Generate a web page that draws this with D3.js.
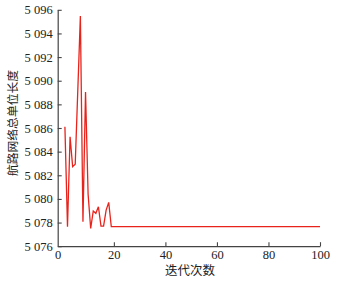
<!DOCTYPE html>
<html><head><meta charset="utf-8">
<script src="https://cdn.jsdelivr.net/npm/d3@7"></script>
<style>body{margin:0;background:#fff}svg{display:block}</style>
</head><body>
<script>
const iterations = d3.range(1, 101);
const earlyValues = [5086.1, 5077.65, 5085.26, 5082.73, 5082.93, 5089.2, 5095.48, 5078.07, 5089.05, 5080.4,
  5077.5, 5078.98, 5078.78, 5079.34, 5077.7, 5077.7, 5079.06, 5079.71];
const finalValue = 5077.65;
const lengths = iterations.map((it, i) => i < earlyValues.length ? earlyValues[i] : finalValue);
const xTicks = [0, 20, 40, 60, 80, 100];
const yTicks = [5076, 5078, 5080, 5082, 5084, 5086, 5088, 5090, 5092, 5094, 5096];
const xTitle = "迭代次数";
const yTitle = "航路网络总单位长度";

(function () {
const W = 342, H = 281;
const svg = d3.select("body").append("svg").attr("width", W).attr("height", H);
const mLeft = 57.7, mRight = 320, mTop = 9.8, mBottom = 246.2;
const x = d3.scaleLinear().domain([-1.8, 100]).range([mLeft, mRight]);
const y = d3.scaleLinear().domain([5076, 5096]).range([mBottom, mTop]);
const fmt = v => { const s = String(v); return s.length > 3 ? s.slice(0, s.length - 3) + " " + s.slice(-3) : s; };
const serif = "'Liberation Serif','DejaVu Serif',serif";

const xAxis = d3.axisBottom(x)
  .tickValues(xTicks.map(v => v === 0 ? x.domain()[0] : v))
  .tickFormat((d, i) => xTicks[i])
  .tickSizeInner(-4).tickSizeOuter(0).tickPadding(4);
const gx = svg.append("g").attr("transform", `translate(0,${mBottom})`).call(xAxis);
const yAxis = d3.axisLeft(y).tickValues(yTicks).tickFormat(fmt)
  .tickSizeInner(-4).tickSizeOuter(0).tickPadding(5);
const gy = svg.append("g").attr("transform", `translate(${mLeft},0)`).call(yAxis);
[gx, gy].forEach(g => {
  g.selectAll("path.domain").attr("stroke", "#444").attr("stroke-width", 1.2);
  g.selectAll(".tick line").attr("stroke", "#444").attr("stroke-width", 1.1);
  g.selectAll(".tick text").attr("font-family", serif).attr("font-size", 12.5).attr("fill", "#222");
});
gx.selectAll(".tick").filter((d, i) => i === 0).select("line").remove();

svg.append("path").datum(iterations)
  .attr("fill", "none").attr("stroke", "#e8231c").attr("stroke-width", 1.3)
  .attr("stroke-linejoin", "miter")
  .attr("d", d3.line().x(d => x(d)).y((d, i) => y(lengths[i])));

svg.append("text").text(xTitle).attr("x", 190).attr("y", 275)
  .attr("text-anchor", "middle").attr("font-family", "'Noto Sans CJK SC',sans-serif")
  .attr("font-size", 12.5).attr("fill", "#222");
svg.append("text").text(yTitle)
  .attr("transform", "translate(17,123) rotate(-90)")
  .attr("text-anchor", "middle").attr("font-family", "'Noto Sans CJK SC',sans-serif")
  .attr("font-size", 11.8).attr("fill", "#222");
})();
</script>
</body></html>
